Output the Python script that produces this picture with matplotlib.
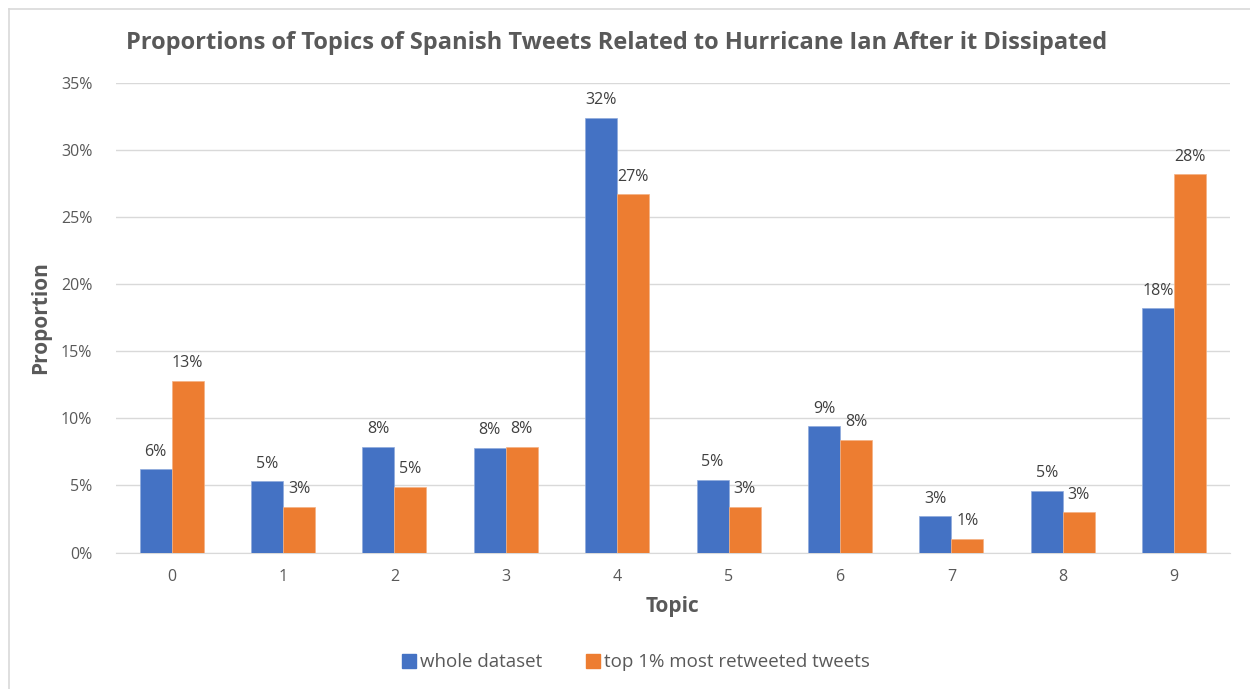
import numpy as np
import matplotlib.pyplot as plt
from matplotlib.lines import Line2D

topics = ["0", "1", "2", "3", "4", "5", "6", "7", "8", "9"]
whole = [6.2, 5.3, 7.9, 7.8, 32.4, 5.4, 9.4, 2.7, 4.6, 18.2]
top1 = [12.8, 3.4, 4.9, 7.9, 26.7, 3.4, 8.4, 1.0, 3.0, 28.2]
series_names = ["whole dataset", "top 1% most retweeted tweets"]

blue = "#4472C4"
orange = "#ED7D31"
grey = "#595959"

plt.rcParams['font.family'] = ['Open Sans', 'DejaVu Sans']

fig = plt.figure(figsize=(12.5, 6.89), dpi=100)
ax = fig.add_axes([0.0928, 0.198, 0.891, 0.6815])

x = np.arange(len(topics))
w = 0.287
b1 = ax.bar(x - w / 2, whole, w, color=blue, edgecolor="#8FAADC", linewidth=0.5,
            label=series_names[0], zorder=3)
b2 = ax.bar(x + w / 2, top1, w, color=orange, edgecolor="#F4B183", linewidth=0.5,
            label=series_names[1], zorder=3)

for bars in (b1, b2):
    for r in bars:
        v = r.get_height()
        ax.annotate("{:.0f}%".format(v), (r.get_x() + r.get_width() / 2, v),
                    xytext=(0, 7), textcoords="offset points", ha="center",
                    va="bottom", fontsize=11.5, color="#404040")

ax.set_xlim(-0.5, len(topics) - 0.5)
ax.set_ylim(0, 35)
ax.set_yticks(np.arange(0, 36, 5))
ax.set_yticklabels(["{}%".format(t) for t in range(0, 36, 5)])
ax.set_xticks(x)
ax.set_xticklabels(topics)
ax.tick_params(axis="both", length=0, colors=grey, labelsize=11.5)
ax.tick_params(axis="y", pad=17)
ax.tick_params(axis="x", pad=12)
ax.grid(axis="y", color="#D9D9D9", linewidth=1, zorder=0)
for s in ["top", "right", "left"]:
    ax.spines[s].set_visible(False)
ax.spines["bottom"].set_color("#D9D9D9")

ax.set_xlabel("Topic", fontsize=15, fontweight="bold", color=grey, labelpad=8)
ax.set_ylabel("Proportion", fontsize=15, fontweight="bold", color=grey, labelpad=7)

fig.text(0.493, 0.937, "Proportions of Topics of Spanish Tweets Related to Hurricane Ian After it Dissipated",
         ha="center", va="center", fontsize=17, fontweight="bold", color=grey)

handles = [Line2D([], [], marker="s", linestyle="none", markersize=10, color=blue),
           Line2D([], [], marker="s", linestyle="none", markersize=10, color=orange)]
fig.legend(handles, series_names, loc="center", bbox_to_anchor=(0.508, 0.039), ncol=2,
           frameon=False, fontsize=13.5, labelcolor=grey, handletextpad=0.1,
           columnspacing=2.2, handlelength=1.0)

# chart area border (top and left visible)
fig.add_artist(Line2D([0.0075, 1.0], [0.987, 0.987], transform=fig.transFigure,
                      color="#D9D9D9", linewidth=1.2))
fig.add_artist(Line2D([0.0075, 0.0075], [0.0, 0.987], transform=fig.transFigure,
                      color="#D9D9D9", linewidth=1.2))

fig.savefig("out.png", dpi=100)
